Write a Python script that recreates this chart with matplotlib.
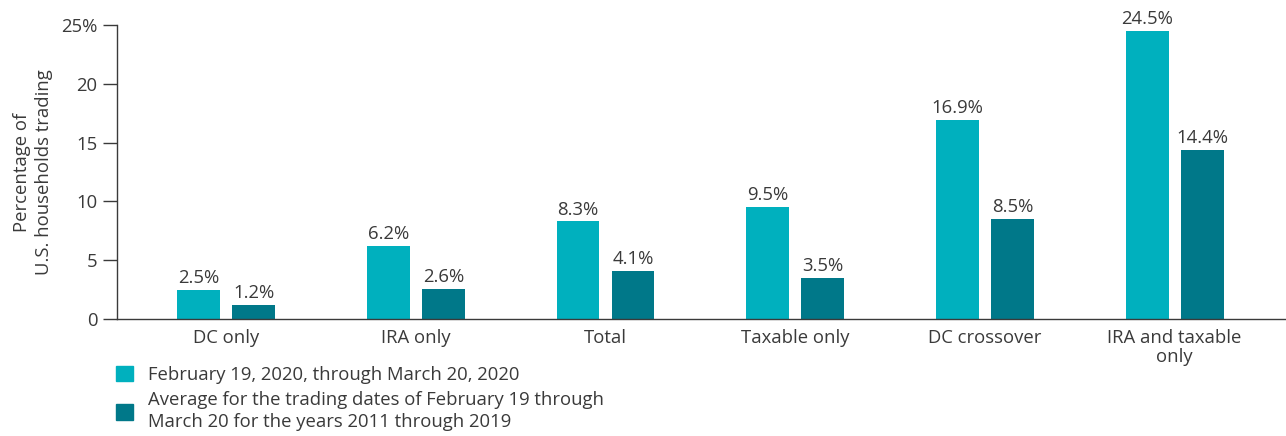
import numpy as np
import matplotlib.pyplot as plt
from matplotlib.patches import Patch

# --- data ---
categories = ["DC only", "IRA only", "Total", "Taxable only", "DC crossover", "IRA and taxable\nonly"]
period_2020 = [2.5, 6.2, 8.3, 9.5, 16.9, 24.5]
avg_2011_2019 = [1.2, 2.6, 4.1, 3.5, 8.5, 14.4]
series_labels = ["February 19, 2020, through March 20, 2020",
                 "Average for the trading dates of February 19 through\nMarch 20 for the years 2011 through 2019"]

light = "#00B0BE"
dark = "#007889"
txt = "#3a3a3a"

plt.rcParams["font.family"] = ["Open Sans", "DejaVu Sans"]
plt.rcParams["font.size"] = 13.3

fig = plt.figure(figsize=(12.86, 4.36), dpi=100)
ax = fig.add_axes([0.091, 0.268, 0.908, 0.675])

x = np.arange(len(categories))
w = 0.226
off = 0.145
b1 = ax.bar(x - off, period_2020, w, color=light)
b2 = ax.bar(x + off, avg_2011_2019, w, color=dark)

for bars, vals in ((b1, period_2020), (b2, avg_2011_2019)):
    for rect, v in zip(bars, vals):
        ax.text(rect.get_x() + rect.get_width() / 2, v + 0.25, f"{v:.1f}%",
                ha="center", va="bottom", color=txt, clip_on=False)

ax.set_xlim(-0.575, 5.58)
ax.set_ylim(0, 25)
ax.set_yticks([0, 5, 10, 15, 20, 25])
ax.set_yticklabels(["0", "5", "10", "15", "20", "25%"])
ax.set_xticks(x)
ax.set_xticklabels(categories, color=txt, linespacing=1.05)
ax.tick_params(axis="x", length=0, pad=7)
ax.tick_params(axis="y", length=10, width=1, colors=txt, pad=4)
for s in ("top", "right"):
    ax.spines[s].set_visible(False)
for s in ("left", "bottom"):
    ax.spines[s].set_color(txt)
    ax.spines[s].set_linewidth(1)

ax.set_ylabel("Percentage of\nU.S. households trading", color=txt, labelpad=6, linespacing=1.3)

handles = [Patch(color=light), Patch(color=dark)]
leg = fig.legend(handles, series_labels, loc="upper left", bbox_to_anchor=(0.0845, 0.178),
                 frameon=False, handlelength=0.9, handleheight=0.9, handletextpad=0.85,
                 labelspacing=0.4, labelcolor=txt, borderaxespad=0)
for t in leg.get_texts():
    t.set_linespacing(1.3)

fig.savefig("out.png", dpi=100)
